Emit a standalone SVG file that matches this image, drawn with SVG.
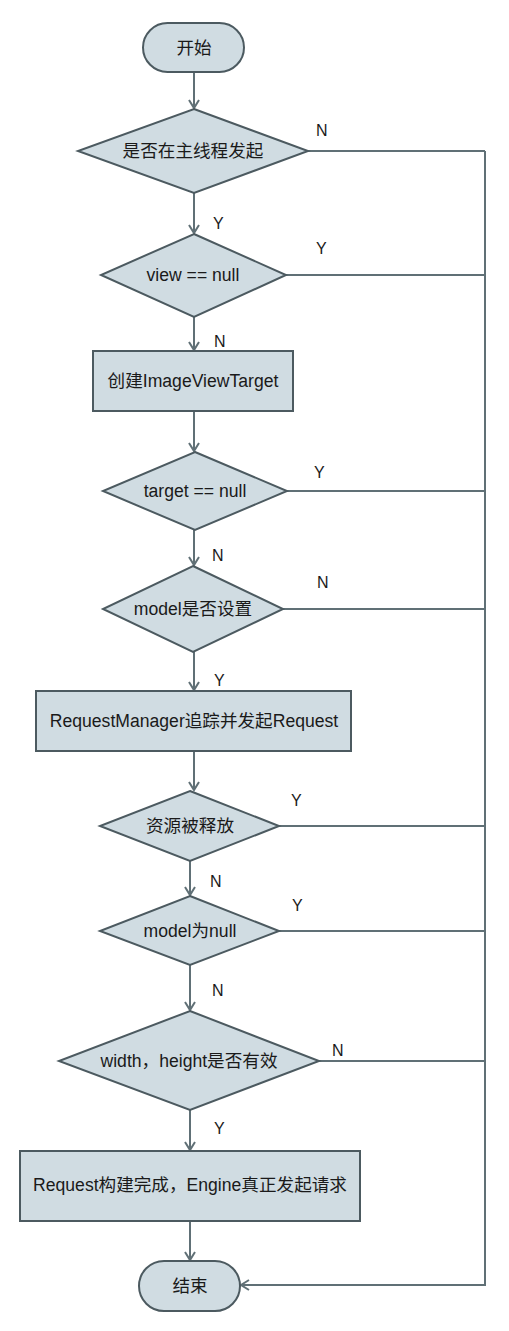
<svg xmlns="http://www.w3.org/2000/svg" width="509" height="1331" viewBox="0 0 509 1331">
<defs>
<style>
.shape{fill:#d0dce2;stroke:#4c5a60;stroke-width:2}
.t{font-family:"Liberation Sans","Noto Sans CJK SC",sans-serif;font-size:17.6px;fill:#1a1a1a;text-anchor:middle;dominant-baseline:central}
.lbl{font-family:"Liberation Sans",sans-serif;font-size:16px;fill:#1a1a1a}
.c{fill:none;stroke:#607076;stroke-width:2}
</style>
<marker id="arr" markerWidth="12" markerHeight="12" refX="10" refY="6" orient="auto" markerUnits="userSpaceOnUse">
<polyline points="2,1 10,6 2,11" fill="none" stroke="#607076" stroke-width="2"/>
</marker>
</defs>
<rect width="509" height="1331" fill="#ffffff"/>
<g id="connectors">
<line class="c" x1="194" y1="72" x2="194" y2="108" marker-end="url(#arr)"/>
<line class="c" x1="194" y1="193" x2="194" y2="233" marker-end="url(#arr)"/>
<line class="c" x1="194" y1="317" x2="194" y2="350" marker-end="url(#arr)"/>
<line class="c" x1="194" y1="411" x2="194" y2="451" marker-end="url(#arr)"/>
<line class="c" x1="194" y1="530" x2="194" y2="565" marker-end="url(#arr)"/>
<line class="c" x1="194" y1="652" x2="194" y2="690" marker-end="url(#arr)"/>
<line class="c" x1="194" y1="751" x2="194" y2="790" marker-end="url(#arr)"/>
<line class="c" x1="190" y1="861" x2="190" y2="895" marker-end="url(#arr)"/>
<line class="c" x1="190" y1="965" x2="190" y2="1010" marker-end="url(#arr)"/>
<line class="c" x1="190" y1="1110" x2="190" y2="1150" marker-end="url(#arr)"/>
<line class="c" x1="190" y1="1221" x2="190" y2="1260" marker-end="url(#arr)"/>
<line class="c" x1="308" y1="151" x2="485" y2="151"/>
<line class="c" x1="286" y1="275" x2="485" y2="275"/>
<line class="c" x1="287" y1="491" x2="485" y2="491"/>
<line class="c" x1="283" y1="609" x2="485" y2="609"/>
<line class="c" x1="279" y1="826" x2="485" y2="826"/>
<line class="c" x1="279" y1="931" x2="485" y2="931"/>
<line class="c" x1="319" y1="1061" x2="485" y2="1061"/>
<polyline class="c" points="485,151 485,1285 241,1285" marker-end="url(#arr)"/>
<text class="lbl" x="316" y="136">N</text>
<text class="lbl" x="213" y="229">Y</text>
<text class="lbl" x="316" y="254">Y</text>
<text class="lbl" x="214" y="347">N</text>
<text class="lbl" x="314" y="478">Y</text>
<text class="lbl" x="212" y="561">N</text>
<text class="lbl" x="317" y="588">N</text>
<text class="lbl" x="214" y="686">Y</text>
<text class="lbl" x="291" y="806">Y</text>
<text class="lbl" x="210" y="887">N</text>
<text class="lbl" x="292" y="911">Y</text>
<text class="lbl" x="212" y="996">N</text>
<text class="lbl" x="332" y="1056">N</text>
<text class="lbl" x="214" y="1134">Y</text>
</g>
<g id="start">
<rect class="shape" x="143" y="23" width="101" height="49" rx="24.5"/>
<text class="t" x="194" y="47.5">开始</text>
</g>
<g id="d1">
<polygon class="shape" points="194,109 308,151 194,193 78,151"/>
<text class="t" x="193" y="151">是否在主线程发起</text>
</g>
<g id="d2">
<polygon class="shape" points="194,234 286,275 194,317 101,275"/>
<text class="t" x="193" y="275">view == null</text>
</g>
<g id="p1">
<rect class="shape" x="93" y="351" width="200" height="60"/>
<text class="t" x="193" y="381">创建ImageViewTarget</text>
</g>
<g id="d3">
<polygon class="shape" points="195,452 287,491 195,530 103,491"/>
<text class="t" x="195" y="491">target == null</text>
</g>
<g id="d4">
<polygon class="shape" points="193,566 283,609 193,652 103,609"/>
<text class="t" x="193" y="609">model是否设置</text>
</g>
<g id="p2">
<rect class="shape" x="36" y="691" width="315" height="60"/>
<text class="t" x="194" y="721">RequestManager追踪并发起Request</text>
</g>
<g id="d5">
<polygon class="shape" points="190,791 279,826 190,861 100,826"/>
<text class="t" x="190" y="826">资源被释放</text>
</g>
<g id="d6">
<polygon class="shape" points="190,896 279,931 190,965 100,931"/>
<text class="t" x="190" y="931">model为null</text>
</g>
<g id="d7">
<polygon class="shape" points="190,1011 319,1061 190,1110 59,1061"/>
<text class="t" x="189" y="1061">width，height是否有效</text>
</g>
<g id="p3">
<rect class="shape" x="20" y="1151" width="340" height="70"/>
<text class="t" x="190" y="1185">Request构建完成，Engine真正发起请求</text>
</g>
<g id="end">
<rect class="shape" x="139" y="1261" width="101" height="50" rx="25"/>
<text class="t" x="190" y="1286">结束</text>
</g>
</svg>
